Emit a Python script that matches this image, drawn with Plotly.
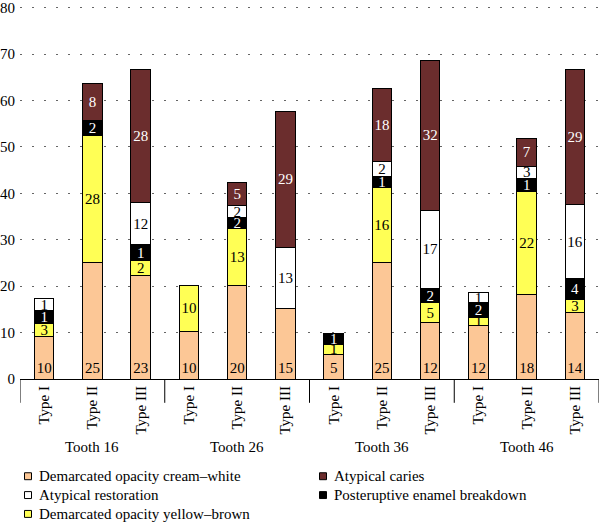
import plotly.graph_objects as go

teeth = ["Tooth 16", "Tooth 26", "Tooth 36", "Tooth 46"]
types = ["Type I", "Type II", "Type III"]

series_names = [
    "Demarcated opacity cream\u2013white",
    "Demarcated opacity yellow\u2013brown",
    "Posteruptive enamel breakdown",
    "Atypical restoration",
    "Atypical caries",
]

# Drawn segment heights (bottom to top), bars ordered Tooth16 I,II,III, Tooth26 I,II,III, ...
cream_h = [9.2, 25.2, 22.4, 10.2, 20.2, 15.2, 5.3, 25.2, 12.2, 11.5, 18.1, 14.4]
yellow_h = [2.8, 27.3, 3.1, 10.0, 12.3, None, 2.2, 16.0, 4.2, 1.8, 22.2, 2.7]
black_h = [2.7, 3.2, 3.4, None, 2.3, None, 2.2, 2.5, 3.1, 3.1, 2.9, 4.5]
white_h = [2.6, None, 9.1, None, 2.5, 13.2, None, 3.2, 16.9, 2.2, 2.6, 15.9]
brown_h = [None, 7.9, 28.6, None, 5.1, 29.3, None, 15.7, 32.2, None, 6.0, 29.1]

# Printed labels on the segments
cream_lbl = [10, 25, 23, 10, 20, 15, 5, 25, 12, 12, 18, 14]
yellow_lbl = [3, 28, 2, 10, 13, None, 1, 16, 5, 1, 22, 3]
black_lbl = [1, 2, 1, None, 2, None, 1, 1, 2, 2, 1, 4]
white_lbl = [1, None, 12, None, 2, 13, None, 2, 17, 1, 3, 16]
brown_lbl = [None, 8, 28, None, 5, 29, None, 18, 32, None, 7, 29]

colors = ["#FCC796", "#FFFF55", "#000000", "#FFFFFF", "#6B2D2D"]
text_colors = ["black", "black", "white", "black", "white"]

# legend layout: (series index, column, row)
legend_slots = [(0, 0, 0), (3, 0, 1), (1, 0, 2), (4, 1, 0), (2, 1, 1)]

FONT = "Liberation Serif"

heights = [cream_h, yellow_h, black_h, white_h, brown_h]
labels = [cream_lbl, yellow_lbl, black_lbl, white_lbl, brown_lbl]

n_types = len(types)
positions = list(range(len(teeth) * n_types))
tick_text = [t for _ in teeth for t in types]

W, H = 600, 523
ML, MR, MT, MB = 20, 1, 0, 144
PW, PH = W - ML - MR, H - MT - MB


def px_x(px):
    return (px - ML) / PW


def px_y(py):
    return (H - MB - py) / PH


fig = go.Figure()
for i, name in enumerate(series_names):
    fig.add_trace(go.Bar(
        x=positions,
        y=heights[i],
        name=name,
        showlegend=False,
        marker=dict(color=colors[i], line=dict(color="black", width=1)),
        text=["" if v is None else str(v) for v in labels[i]],
        textposition="inside",
        insidetextanchor="start" if i == 0 else "middle",
        textangle=0,
        textfont=dict(family=FONT, size=15, color=text_colors[i]),
        width=0.4,
        hoverinfo="skip",
    ))

shapes = []
for g in range(len(teeth) + 1):
    xb = g * n_types - 0.5
    shapes.append(dict(type="line", xref="x", yref="paper",
                       x0=xb, x1=xb, y0=0, y1=-24 / PH,
                       line=dict(color="black", width=1)))

annotations = []
for g, tooth in enumerate(teeth):
    center = sum(positions[g * n_types:(g + 1) * n_types]) / n_types
    annotations.append(dict(x=center, xref="x", y=px_y(448), yref="paper",
                            text=tooth, showarrow=False, yanchor="middle",
                            font=dict(family=FONT, size=15, color="black")))

# legend drawn as swatches + text
col_marker_x = [28, 323]
col_text_x = [37, 332]
row_y = [477, 496, 515]
for si, col, row in legend_slots:
    cx, cy = col_marker_x[col], row_y[row]
    shapes.append(dict(type="rect", xref="paper", yref="paper",
                       x0=px_x(cx - 3.5), x1=px_x(cx + 3.5),
                       y0=px_y(cy - 3.5), y1=px_y(cy + 3.5),
                       fillcolor=colors[si], line=dict(color="black", width=1)))
    annotations.append(dict(x=px_x(col_text_x[col]), xref="paper",
                            y=px_y(cy), yref="paper", text=series_names[si],
                            showarrow=False, xanchor="left", yanchor="middle",
                            font=dict(family=FONT, size=15, color="black")))

fig.update_layout(
    width=W, height=H,
    margin=dict(l=ML, r=MR, t=MT, b=MB),
    barmode="stack",
    showlegend=False,
    plot_bgcolor="white", paper_bgcolor="white",
    font=dict(family=FONT, size=15, color="black"),
    uniformtext=dict(minsize=15, mode="show"),
    shapes=shapes,
    annotations=annotations,
)
fig.update_xaxes(
    range=[-0.5, len(positions) - 0.5],
    tickmode="array", tickvals=positions, ticktext=tick_text,
    tickangle=-90, showgrid=False, zeroline=False,
    showline=True, linecolor="black", linewidth=1,
    ticks="", tickfont=dict(family=FONT, size=15, color="black"),
)
fig.update_yaxes(
    range=[0, 81], dtick=10, tick0=0,
    showgrid=True, gridcolor="#666666", gridwidth=1, griddash="2px,10px",
    zeroline=False, showline=False, ticks="", ticklabelstandoff=4,
    ticklabeloverflow="allow",
    tickfont=dict(family=FONT, size=15, color="black"),
)

fig.write_html("out.html")
